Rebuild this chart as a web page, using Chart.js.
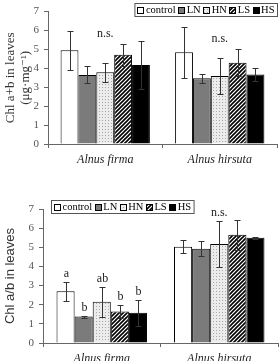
<!DOCTYPE html>
<html>
<head>
<meta charset="utf-8">
<script src="https://cdn.jsdelivr.net/npm/chart.js@4"></script>
<style>
  body { margin: 0; background: #fff; }
  canvas { display: block; }
</style>
</head>
<body>
<canvas id="chlTotal" width="280" height="180"></canvas>
<canvas id="chlRatio" width="280" height="181"></canvas>
<script>
// data
const species = ["Alnus firma", "Alnus hirsuta"];
const treatments = ["control", "LN", "HN", "LS", "HS"];
const yTicks = [0, 1, 2, 3, 4, 5, 6, 7];

// Chl a+b (ug/mg), one array per treatment: [firma, hirsuta]
const abMean = {
    control: [4.95, 4.85],
    LN: [3.65, 3.47],
    HN: [3.80, 3.60],
    LS: [4.72, 4.30],
    HS: [4.18, 3.67]
};
const abErr = {
    control: [1.05, 1.35],
    LN: [0.45, 0.24],
    HN: [0.50, 0.95],
    LS: [0.58, 0.72],
    HS: [1.25, 0.36]
};
const abNs = [5.8, 5.55];  // height of "n.s." per species

// Chl a/b
const ratioMean = {
    control: [2.70, 5.03],
    LN: [1.38, 4.93],
    HN: [2.15, 5.17],
    LS: [1.65, 5.65],
    HS: [1.58, 5.50]
};
const ratioErr = {
    control: [0.50, 0.35],
    LN: [0.05, 0.40],
    HN: [0.78, 1.18],
    LS: [0.35, 0.80],
    HS: [0.67, 0.05]
};
const ratioLetters = ["a", "b", "ab", "b", "b"]; // Alnus firma only
const ratioNs = [null, 6.8];

function makePattern(size, draw) {
    const c = document.createElement("canvas");
    c.width = size; c.height = size;
    draw(c.getContext("2d"), size);
    return c.getContext("2d").createPattern(c, "repeat");
}

const dotted = makePattern(3, function(g, s) {
    g.fillStyle = "#ececec"; g.fillRect(0, 0, s, s);
    g.fillStyle = "#a8a8a8"; g.fillRect(0, 0, 1, 1);
});
const striped = makePattern(4, function(g, s) {
    g.fillStyle = "#fff"; g.fillRect(0, 0, s, s);
    g.strokeStyle = "#000"; g.lineWidth = 1.6;
    g.beginPath();
    g.moveTo(-1, s + 1); g.lineTo(s + 1, -1);
    g.moveTo(-1, 1); g.lineTo(1, -1);
    g.moveTo(s - 1, s + 1); g.lineTo(s + 1, s - 1);
    g.stroke();
});
const fills = { control: "#ffffff", LN: "#7b7b7b", HN: dotted, LS: striped, HS: "#000000" };

const serif = "'Liberation Serif', 'DejaVu Serif', serif";

// error bars, letters, n.s. and the boxed legend
const extras = {
    id: "extras",
    afterDatasetsDraw(chart, args, o) {
        const ctx = chart.ctx, y = chart.scales.y;
        ctx.save();
        ctx.strokeStyle = "#333";
        ctx.lineWidth = 1;
        ctx.fillStyle = "#222";
        ctx.font = "12px " + serif;
        ctx.textAlign = "center";
        ctx.textBaseline = "bottom";
        chart.data.datasets.forEach(function(ds, i) {
            chart.getDatasetMeta(i).data.forEach(function(bar, j) {
                const v = ds.data[j], e = ds.err[j];
                const top = Math.round(y.getPixelForValue(v + e)) + 0.5;
                const bot = Math.round(y.getPixelForValue(v - e)) + 0.5;
                const x = Math.round(bar.x) + 0.5;
                ctx.beginPath();
                ctx.moveTo(x, top); ctx.lineTo(x, bot);
                ctx.moveTo(x - 3, top); ctx.lineTo(x + 3, top);
                ctx.moveTo(x - 3, bot); ctx.lineTo(x + 3, bot);
                ctx.stroke();
                if (o.letters && j === 0) {
                    ctx.fillText(o.letters[i], x, top - 3);
                }
            });
        });
        (o.ns || []).forEach(function(level, j) {
            if (level === null) return;
            const x = chart.scales.x.getPixelForValue(j);
            ctx.textBaseline = "middle";
            ctx.fillText("n.s.", x, y.getPixelForValue(level));
        });

        // legend
        const lg = o.legend;
        ctx.font = "10.5px " + serif;
        ctx.textAlign = "left";
        ctx.textBaseline = "middle";
        let w = 3;
        chart.data.datasets.forEach(function(ds) {
            w += 8.5 + ctx.measureText(ds.label).width + 2.5;
        });
        w += 1;
        const left = lg.right ? lg.right - w : lg.left;
        ctx.fillStyle = "#fff";
        ctx.fillRect(left, lg.top, w, lg.height);
        ctx.strokeStyle = "#555";
        ctx.strokeRect(left + 0.5, lg.top + 0.5, w - 1, lg.height - 1);
        const mid = lg.top + lg.height / 2;
        let x = left + 3;
        chart.data.datasets.forEach(function(ds) {
            const bx = Math.round(x);
            ctx.fillStyle = ds.backgroundColor;
            ctx.fillRect(bx, mid - 3, 7, 7);
            ctx.strokeStyle = "#000";
            ctx.strokeRect(bx + 0.5, mid - 2.5, 6, 6);
            x += 8.5;
            ctx.fillStyle = "#000";
            ctx.fillText(ds.label, x, mid + 0.5);
            x += ctx.measureText(ds.label).width + 2.5;
        });
        ctx.restore();
    }
};

function makeChart(id, means, errs, cfg) {
    const datasets = treatments.map(function(t) {
        return {
            label: t,
            data: means[t],
            err: errs[t],
            backgroundColor: fills[t],
            borderColor: "#000",
            borderWidth: 1,
            categoryPercentage: cfg.catPct,
            barPercentage: 1
        };
    });
    return new Chart(document.getElementById(id), {
        type: "bar",
        data: { labels: species, datasets: datasets },
        options: {
            responsive: false,
            animation: false,
            layout: { padding: { top: cfg.top, right: cfg.right, left: 0, bottom: 0 } },
            plugins: {
                legend: { display: false },
                tooltip: { enabled: false },
                extras: { letters: cfg.letters, ns: cfg.ns, legend: cfg.legend }
            },
            scales: {
                x: {
                    grid: { drawOnChartArea: false, tickLength: 4, color: "#666" },
                    border: { color: "#666" },
                    ticks: { color: "#222", padding: 5, font: { family: serif, size: 12, style: "italic" } },
                    afterFit: function(s) { s.height = cfg.xHeight; }
                },
                y: {
                    min: 0, max: 7,
                    afterBuildTicks: function(s) { s.ticks = yTicks.map(function(v) { return { value: v }; }); },
                    grid: { drawOnChartArea: false, tickLength: 4, color: "#666" },
                    border: { color: "#666" },
                    ticks: { color: "#555", padding: 5, font: { family: serif, size: 11 } },
                    title: { display: true, text: cfg.title, color: "#333", padding: { top: 3, bottom: 0 }, font: cfg.titleFont },
                    afterFit: function(s) { s.width = cfg.yWidth; }
                }
            }
        },
        plugins: [extras]
    });
}

makeChart("chlTotal", abMean, abErr, {
    catPct: 0.78, top: 10, right: 3, xHeight: 36, yWidth: 48,
    title: ["Chl a+b in leaves", "(\u03bcg\u00b7mg\u207b\u00b9)"],
    titleFont: { family: serif, size: 13, lineHeight: 1.15 },
    ns: abNs,
    legend: { right: 278, top: 3, height: 14 }
});

makeChart("chlRatio", ratioMean, ratioErr, {
    catPct: 0.77, top: 29, right: 2, xHeight: 18, yWidth: 43,
    title: "Chl a/b in leaves",
    titleFont: { family: "'Liberation Sans Narrow', 'Liberation Sans', sans-serif", size: 13 },
    letters: ratioLetters, ns: ratioNs,
    legend: { left: 51, top: 200 - 180, height: 14 }
});
</script>
</body>
</html>
